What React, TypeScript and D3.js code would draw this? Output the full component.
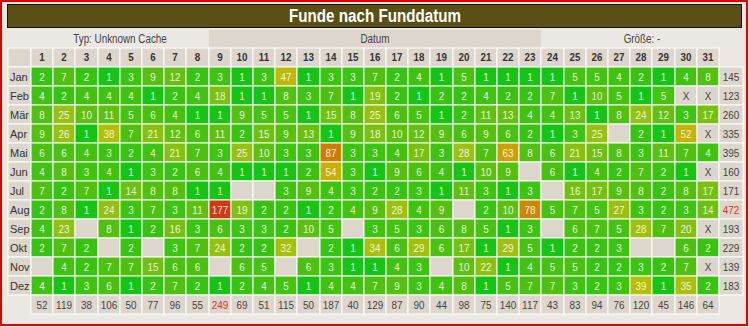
import React from 'react';
import * as d3 from 'd3';

const title = "Funde nach Funddatum";
const typLabel = "Typ: Unknown Cache";
const datumLabel = "Datum";
const sizeLabel = "Größe: -";

const months = ["Jan", "Feb", "Mär", "Apr", "Mai", "Jun", "Jul", "Aug", "Sep", "Okt", "Nov", "Dez"];
const days = ["1", "2", "3", "4", "5", "6", "7", "8", "9", "10", "11", "12", "13", "14", "15", "16",
  "17", "18", "19", "20", "21", "22", "23", "24", "25", "26", "27", "28", "29", "30", "31"];

type Cell = number | null | "X";
const _ = null;
const X = "X";

// finds per day, one array per month (null = no finds, X = no such date)
const jan: Cell[] = [2, 7, 2, 1, 3, 9, 12, 2, 3, 1, 3, 47, 1, 3, 3, 7, 2, 4, 1, 5, 1, 1, 1, 1, 5, 5, 4, 2, 1, 4, 8];
const feb: Cell[] = [4, 2, 4, 4, 4, 1, 2, 4, 18, 1, 1, 8, 3, 7, 1, 19, 2, 1, 2, 2, 4, 2, 2, 7, 1, 10, 5, 1, 5, X, X];
const mar: Cell[] = [8, 25, 10, 11, 5, 6, 4, 1, 1, 9, 5, 5, 1, 15, 8, 25, 6, 5, 1, 2, 11, 13, 4, 4, 13, 1, 8, 24, 12, 3, 17];
const apr: Cell[] = [9, 26, 1, 38, 7, 21, 12, 6, 11, 2, 15, 9, 13, 1, 9, 18, 10, 12, 9, 6, 9, 6, 2, 1, 3, 25, _, 2, 1, 52, X];
const mai: Cell[] = [6, 6, 4, 3, 2, 4, 21, 7, 3, 25, 10, 3, 3, 87, 3, 3, 4, 17, 3, 28, 7, 63, 8, 6, 21, 15, 8, 3, 11, 7, 4];
const jun: Cell[] = [4, 8, 3, 4, 1, 3, 2, 6, 4, 1, 1, 1, 2, 54, 3, 1, 9, 6, 4, 1, 10, 9, _, 6, 1, 4, 2, 7, 2, 1, X];
const jul: Cell[] = [7, 2, 7, 1, 14, 8, 8, 1, 1, _, _, 3, 9, 4, 3, 2, 2, 3, 1, 11, 3, 1, 3, _, 16, 17, 9, 8, 2, 8, 17];
const aug: Cell[] = [2, 8, 1, 24, 3, 7, 3, 11, 177, 19, 2, 2, 1, 2, 4, 9, 28, 4, 9, _, 2, 10, 78, 5, 7, 5, 27, 3, 2, 3, 14];
const sep: Cell[] = [4, 23, _, 8, 1, 2, 16, 3, 6, 3, 3, 2, 10, 5, _, 3, 5, 3, 6, 8, 5, 1, 3, _, 6, 7, 5, 28, 7, 20, X];
const okt: Cell[] = [2, 7, 2, _, 2, _, 3, 7, 24, 2, 2, 32, _, 2, 1, 34, 6, 29, 6, 17, 1, 29, 5, 1, 2, 2, 3, _, _, 6, 2];
const nov: Cell[] = [_, 4, 2, 7, 7, 15, 6, 6, _, 6, 5, _, 6, 3, 1, 1, 4, 3, _, 10, 22, 1, 4, 5, 5, 2, 2, 3, 2, 7, X];
const dez: Cell[] = [4, 1, 3, 6, 1, 2, 7, 2, 1, 2, 4, 5, 1, 4, 4, 7, 9, 3, 4, 8, 1, 5, 7, 7, 3, 2, 3, 39, 1, 35, 2];
const counts = [jan, feb, mar, apr, mai, jun, jul, aug, sep, okt, nov, dez];

const monthTotals = [145, 123, 260, 335, 395, 160, 171, 472, 193, 229, 139, 183];
const dayTotals = [52, 119, 38, 106, 50, 77, 96, 55, 249, 69, 51, 115, 50, 187, 40, 129,
  87, 90, 44, 98, 75, 140, 117, 43, 83, 94, 76, 120, 45, 146, 64];

const W = 749;
const H = 327;
const font = "'Liberation Sans', Arial, sans-serif";
const beige = "#ddd6cc";

// no narrow font installed, so squeeze horizontally
const Narrow = ({ x, y, sx = 0.82, children, ...rest }: any) => (
  <text transform={`translate(${x},${y}) scale(${sx},1)`} textAnchor="middle" fontFamily={font} {...rest}>
    {children}
  </text>
);

export default function App() {
  const x = d3.scaleBand<string>().domain(days).range([31, 719]);
  const y = d3.scaleBand<string>().domain([...months, "sum"]).range([67, 67 + 13 * 19]);
  const color = d3
    .scaleLinear<string>()
    .domain([1, 2, 4, 8, 15, 25, 40, 55, 70, 90, 177])
    .range(["#16c416", "#38c312", "#42c210", "#52c010", "#70c010", "#98c010", "#b4c000", "#c8b000", "#cc9400", "#cc7800", "#d03a0c"])
    .clamp(true);

  const left = (d: string) => Math.round(x(d)!);
  const right = (d: string) => Math.round(x(d)! + x.bandwidth());
  const top = (m: string) => Math.round(y(m)!);
  const rowH = Math.round(y.bandwidth());
  const labelX0 = 8;
  const totalX1 = 743;
  const maxMonth = d3.max(monthTotals)!;
  const maxDay = d3.max(dayTotals)!;

  const dayRowY = 48;

  return (
    <>
      <style>{"body{margin:0}"}</style>
      <svg width={W} height={H} style={{ display: "block" }}>
        <rect x={0} y={0} width={W} height={H} fill="#ebe8e4" />
        <rect x={1} y={1} width={746} height={324} fill="none" stroke="#e00000" strokeWidth={2} />

        {/* title bar */}
        <rect x={7.5} y={4.5} width={734} height={23} fill="#5a4f14" stroke="#111" strokeWidth={1} />
        <Narrow x={375} y={22} sx={0.8} fill="#fff" fontWeight="bold" fontSize={19}>
          {title}
        </Narrow>

        {/* header row */}
        <rect x={left("9")} y={30} width={right("23") - left("9")} height={18} fill={beige} />
        <Narrow x={(left("1") + right("8")) / 2} y={43} fill="#444" fontSize={12}>
          {typLabel}
        </Narrow>
        <Narrow x={(left("9") + right("23")) / 2} y={43} fill="#444" fontSize={12}>
          {datumLabel}
        </Narrow>
        <Narrow x={(left("24") + totalX1) / 2} y={43} fill="#444" fontSize={12}>
          {sizeLabel}
        </Narrow>

        {/* day numbers */}
        <rect x={labelX0} y={dayRowY} width={left("1") - labelX0} height={top("Jan") - dayRowY} fill={beige} stroke="#fff" />
        {days.map((d) => (
          <g key={d}>
            <rect x={left(d)} y={dayRowY} width={right(d) - left(d)} height={top("Jan") - dayRowY} fill={beige} stroke="#fff" />
            <Narrow x={(left(d) + right(d)) / 2} y={dayRowY + 13} sx={0.85} fill="#333" fontWeight="bold" fontSize={11.5}>
              {d}
            </Narrow>
          </g>
        ))}

        {/* month rows */}
        {months.map((m, i) => (
          <g key={m}>
            <rect x={labelX0} y={top(m)} width={left("1") - labelX0} height={rowH} fill={beige} stroke="#fff" />
            <text x={labelX0 + 2} y={top(m) + 13.5} fill="#333" fontFamily={font} fontSize={11}>
              {m}
            </text>
            {days.map((d, j) => {
              const v = counts[i][j];
              const fill = typeof v === "number" ? color(v) : beige;
              return (
                <g key={d}>
                  <rect x={left(d)} y={top(m)} width={right(d) - left(d)} height={rowH} fill={fill} stroke="#fff" />
                  {v !== null && (
                    <Narrow
                      x={(left(d) + right(d)) / 2}
                      y={top(m) + 13.5}
                      sx={0.9}
                      fill={v === "X" ? "#444" : "#fff"}
                      fillOpacity={v === "X" ? 1 : 0.88}
                      fontSize={11}
                    >
                      {v}
                    </Narrow>
                  )}
                </g>
              );
            })}
            <rect x={right("31")} y={top(m)} width={totalX1 - right("31")} height={rowH} fill={beige} stroke="#fff" />
            <Narrow
              x={(right("31") + totalX1) / 2}
              y={top(m) + 13.5}
              sx={0.9}
              fill={monthTotals[i] === maxMonth ? "#e0301e" : "#444"}
              fontSize={11}
            >
              {monthTotals[i]}
            </Narrow>
          </g>
        ))}

        {/* totals per day */}
        {days.map((d, j) => (
          <g key={d}>
            <rect x={left(d)} y={top("sum")} width={right(d) - left(d)} height={rowH} fill={beige} stroke="#fff" />
            <Narrow
              x={(left(d) + right(d)) / 2}
              y={top("sum") + 13.5}
              sx={0.9}
              fill={dayTotals[j] === maxDay ? "#e0301e" : "#444"}
              fontSize={11}
            >
              {dayTotals[j]}
            </Narrow>
          </g>
        ))}
      </svg>
    </>
  );
}
